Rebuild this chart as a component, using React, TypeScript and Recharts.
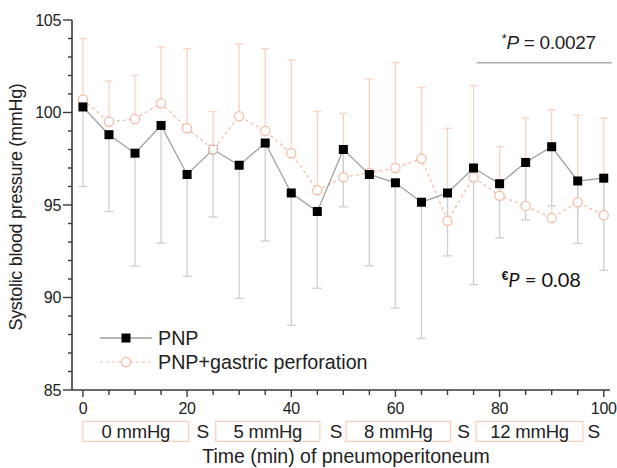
import React from 'react';
import {
  LineChart,
  Line,
  XAxis,
  YAxis,
  ErrorBar,
  Legend,
  ReferenceArea,
  ReferenceDot,
  ReferenceLine,
} from 'recharts';

const times = [0, 5, 10, 15, 20, 25, 30, 35, 40, 45, 50, 55, 60, 65, 70, 75, 80, 85, 90, 95, 100];
const pnp = [100.3, 98.8, 97.8, 99.3, 96.65, 98.0, 97.15, 98.35, 95.65, 94.65, 98.0, 96.65, 96.2, 95.15, 95.65, 97.0, 96.15, 97.3, 98.15, 96.3, 96.45];
const pnpLower = [96.0, 94.65, 91.7, 92.95, 91.15, 94.35, 89.95, 93.05, 88.5, 90.5, 94.9, 91.72, 89.43, 87.78, 92.25, 90.7, 93.22, 94.2, 94.95, 92.92, 91.47];
const gastric = [100.7, 99.5, 99.65, 100.5, 99.15, 98.0, 99.8, 99.0, 97.8, 95.8, 96.5, 96.75, 97.0, 97.5, 94.15, 96.5, 95.5, 94.95, 94.3, 95.15, 94.45];
const gastricUpper = [104.0, 101.7, 102.0, 103.55, 103.45, 100.05, 103.7, 103.45, 102.85, 100.05, 99.95, 101.8, 102.7, 101.35, 99.15, 101.45, 98.15, 99.7, 100.15, 99.85, 99.7];

const yTicks = [85, 86, 87, 88, 89, 90, 91, 92, 93, 94, 95, 96, 97, 98, 99, 100, 101, 102, 103, 104, 105];
const xTicks = [0, 5, 10, 15, 20, 25, 30, 35, 40, 45, 50, 55, 60, 65, 70, 75, 80, 85, 90, 95, 100];

const phaseLabels = ['0 mmHg', '5 mmHg', '8 mmHg', '12 mmHg'];
const phaseStart = [0, 25.5, 50.5, 75.5];
const phaseEnd = [20.3, 45.5, 70.6, 96];
const switchMarks = [23, 48.6, 73.1, 98.1];

const seriesNames = ['PNP', 'PNP+gastric perforation'];

const data = times.map((t, i) => ({
  t,
  pnp: pnp[i],
  pnpErr: [pnp[i] - pnpLower[i], 0],
  gas: gastric[i],
  gasErr: [0, gastricUpper[i] - gastric[i]],
}));

const FONT = '"Liberation Sans", Arial, Helvetica, sans-serif';
const ORANGE_LINE = '#f4b9a1';
const ORANGE_BAR = '#f9d2c3';
const ORANGE_BOX = '#f7cdbd';
const GRAY_LINE = '#a0a0a0';
const GRAY_BAR = '#cfcfcf';
const AXIS = '#3a3a3a';

const YTick = (props: any) => {
  const { x, y, payload } = props;
  const major = payload.value % 5 === 0;
  return (
    <g>
      <line x1={x - (major ? 9 : 4)} x2={x} y1={y} y2={y} stroke={AXIS} strokeWidth={1.4} />
      {major && (
        <text x={x - 11} y={y} dy="0.36em" textAnchor="end" fontSize={16} fill="#222" fontFamily={FONT} letterSpacing={-0.3}>
          {payload.value}
        </text>
      )}
    </g>
  );
};

const XTick = (props: any) => {
  const { x, y, payload } = props;
  const major = payload.value % 20 === 0;
  return (
    <g>
      <line x1={x} x2={x} y1={y} y2={y + (major ? 7 : 5)} stroke={AXIS} strokeWidth={1.4} />
      {major && (
        <text x={x} y={y + 24} textAnchor="middle" fontSize={16} fill="#222" fontFamily={FONT} letterSpacing={-0.3}>
          {payload.value}
        </text>
      )}
    </g>
  );
};

const PnpDot = (props: any) => {
  const { cx, cy, index } = props;
  if (cx == null || cy == null) return null;
  if (index === 5) {
    return (
      <rect x={cx - 4} y={cy - 4} width={8} height={8} fill="#fff" stroke="#c9a79c" strokeWidth={1.4} strokeDasharray="2 1.5" />
    );
  }
  return <rect x={cx - 4.5} y={cy - 4.5} width={9} height={9} fill="#000" />;
};

const GasDot = (props: any) => {
  const { cx, cy } = props;
  if (cx == null || cy == null) return null;
  return <circle cx={cx} cy={cy} r={4.6} fill="#fff" stroke={ORANGE_LINE} strokeWidth={1.2} />;
};

const renderLegend = () => {
  return (
    <svg width={320} height={50} style={{ display: 'block' }}>
      {seriesNames.map((name, i) => {
        const cy = 12 + i * 24;
        return (
          <g key={name}>
            {i === 0 ? (
              <>
                <line x1={5} x2={57} y1={cy} y2={cy} stroke={GRAY_LINE} strokeWidth={1.3} />
                <rect x={26.5} y={cy - 4.5} width={9} height={9} fill="#000" />
              </>
            ) : (
              <>
                <line x1={5} x2={57} y1={cy} y2={cy} stroke={ORANGE_LINE} strokeWidth={1.2} strokeDasharray="3 3" />
                <circle cx={31} cy={cy} r={4.6} fill="#fff" stroke={ORANGE_LINE} strokeWidth={1.2} />
              </>
            )}
            <text x={63} y={cy} dy="0.36em" fontSize={19.7} fill="#222" fontFamily={FONT}>
              {name}
            </text>
          </g>
        );
      })}
    </svg>
  );
};

export default function App() {
  return (
    <div style={{ position: 'absolute', left: 0, top: 0, width: 617, height: 468, background: '#fff', fontFamily: FONT }}>
      <LineChart width={617} height={468} data={data} margin={{ top: 20, right: 7, bottom: 0, left: 0 }}>
        <XAxis
          dataKey="t"
          type="number"
          domain={[-2.1, 101.2]}
          ticks={xTicks}
          interval={0}
          allowDataOverflow
          height={78}
          tickSize={0}
          tickMargin={0}
          tickLine={false}
          tick={<XTick />}
          axisLine={{ stroke: AXIS, strokeWidth: 1.6 }}
          label={{
            content: (p: any) => {
              const vb = p.viewBox || {};
              return (
                <text x={vb.x + vb.width / 2 + 5} y={vb.y + 73} textAnchor="middle" fontSize={19.5} fill="#222" fontFamily={FONT}>
                  Time (min) of pneumoperitoneum
                </text>
              );
            },
          }}
        />
        <YAxis
          type="number"
          domain={[85, 105]}
          ticks={yTicks}
          interval={0}
          allowDataOverflow
          width={72}
          tickSize={0}
          tickMargin={0}
          tickLine={false}
          tick={<YTick />}
          axisLine={{ stroke: AXIS, strokeWidth: 1.6 }}
          label={{
            content: (p: any) => {
              const vb = p.viewBox || {};
              const cx = 22;
              const cy = vb.y + vb.height / 2 + 2;
              return (
                <text x={cx} y={cy} transform={`rotate(-90, ${cx}, ${cy})`} textAnchor="middle" fontSize={18} fill="#222" fontFamily={FONT} letterSpacing={-0.3}>
                  Systolic blood pressure (mmHg)
                </text>
              );
            },
          }}
        />
        <Legend
          layout="vertical"
          align="center"
          verticalAlign="middle"
          content={renderLegend}
          wrapperStyle={{ left: 95, top: 326, width: 320, height: 50 }}
        />
        <Line
          name={seriesNames[1]}
          dataKey="gas"
          stroke={ORANGE_LINE}
          strokeWidth={1.2}
          strokeDasharray="3 3"
          dot={<GasDot />}
          activeDot={false}
          isAnimationActive={false}
        >
          <ErrorBar dataKey="gasErr" direction="y" width={4} stroke={ORANGE_BAR} strokeWidth={1.3} />
        </Line>
        <Line
          name={seriesNames[0]}
          dataKey="pnp"
          stroke={GRAY_LINE}
          strokeWidth={1.3}
          dot={<PnpDot />}
          activeDot={false}
          isAnimationActive={false}
        >
          <ErrorBar dataKey="pnpErr" direction="y" width={4.5} stroke={GRAY_BAR} strokeWidth={1.3} />
        </Line>

        <ReferenceLine
          segment={[{ x: 75.6, y: 102.69 }, { x: 101.5, y: 102.69 }]}
          stroke="#a8a8a8"
          strokeWidth={1.3}
          ifOverflow="visible"
        />
        <ReferenceDot
          x={80.4}
          y={103.43}
          r={0}
          fill="none"
          stroke="none"
          ifOverflow="visible"
          label={{
            content: (p: any) => {
              const vb = p.viewBox || {};
              return (
                <text x={vb.x} y={vb.y} fontSize={19} fill="#222" fontFamily={FONT} letterSpacing={-0.3}>
                  <tspan fontSize={13} dy={-6}>*</tspan>
                  <tspan fontStyle="italic" dy={6}>P</tspan>
                  <tspan> = 0.0027</tspan>
                </text>
              );
            },
          }}
        />
        <ReferenceDot
          x={80.4}
          y={90.57}
          r={0}
          fill="none"
          stroke="none"
          ifOverflow="visible"
          label={{
            content: (p: any) => {
              const vb = p.viewBox || {};
              return (
                <text x={vb.x} y={vb.y} fontSize={20} fill="#111" fontFamily="Lato, 'Open Sans', sans-serif">
                  <tspan fontSize={12} fontWeight="bold" fontFamily={FONT} dy={-7}>€</tspan>
                  <tspan fontStyle="italic" dy={7}>P</tspan>
                  <tspan> = 0.08</tspan>
                </text>
              );
            },
          }}
        />

        {phaseLabels.map((lab, i) => (
          <ReferenceArea
            key={lab}
            x1={phaseStart[i]}
            x2={phaseEnd[i]}
            y1={83.3}
            y2={82.22}
            ifOverflow="visible"
            fill="#fff"
            fillOpacity={0}
            stroke={ORANGE_BOX}
            strokeWidth={1.2}
            label={{ value: lab, position: 'center', fontSize: 18.5, fill: '#222', fontFamily: FONT, letterSpacing: -0.2 }}
          />
        ))}
        {switchMarks.map((s, i) => (
          <ReferenceDot
            key={'s' + i}
            x={s}
            y={82.76}
            r={0}
            fill="none"
            stroke="none"
            ifOverflow="visible"
            label={{ value: 'S', position: 'center', fontSize: 19, fill: '#222', fontFamily: FONT }}
          />
        ))}
      </LineChart>
    </div>
  );
}
